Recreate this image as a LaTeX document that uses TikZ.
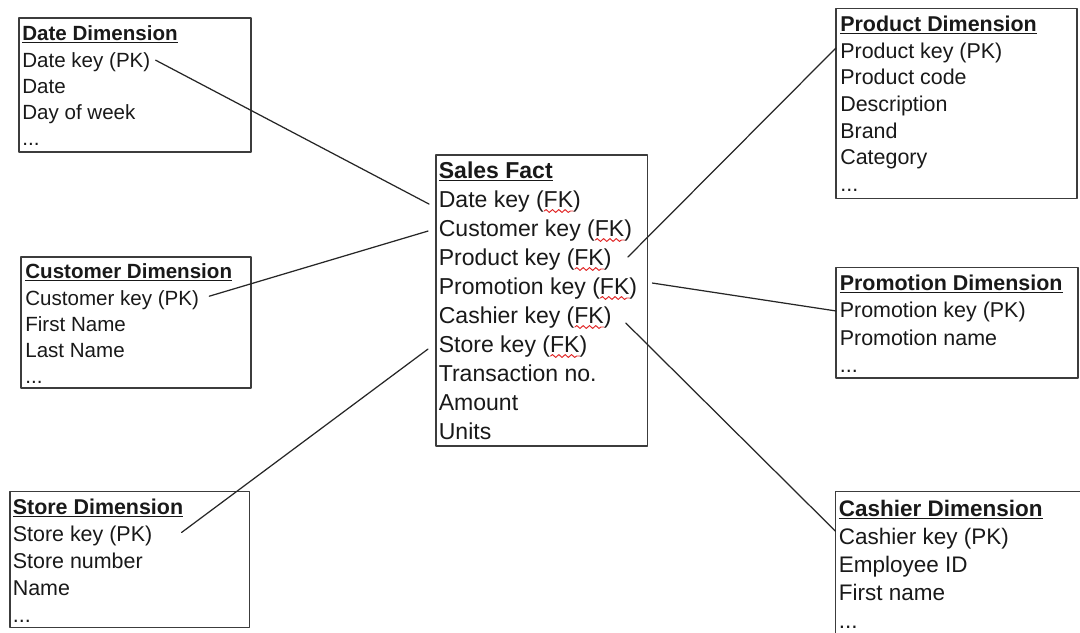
\documentclass[tikz,border=0pt]{standalone}
\usepackage{fontspec}
\setmainfont{Liberation Sans}
\usepackage{xcolor}
\usepackage{tikz}
\usetikzlibrary{positioning}
\usetikzlibrary{fit}
\usetikzlibrary{decorations.pathmorphing}

\newcommand{\boxfont}[1]{\fontsize{#1}{#1}\selectfont}
\newcommand{\tblhead}[1]{\underline{\textbf{#1}}}

\begin{document}
\begin{tikzpicture}[x=0.02cm, y=-0.02cm, line cap=round, line join=round]

			% Colors
			\definecolor{spellred}{RGB}{225,40,40}
			\definecolor{frameG}{RGB}{60,60,60}
			\definecolor{inkA}{RGB}{25,25,25}

			\tikzset{
				tbl/.style={draw=frameG, line width=0.8pt, inner sep=0pt},
				attr/.style={anchor=base west, inner sep=0pt, text=inkA},
				smallrow/.style={attr, font=\boxfont{11.7}},
				midrow/.style={attr, font=\boxfont{12.2}},
				bigrow/.style={attr, font=\boxfont{12.8}},
				factrow/.style={attr, font=\boxfont{13.1}},
				link/.style={draw=black!85, line width=0.7pt},
				spell/.style={draw=spellred, line width=0.55pt, decorate,
					decoration={snake, segment length=3.6pt, amplitude=0.8pt}},
			}

			\useasboundingbox (0,0) rectangle (1080,633);
			\fill[white] (0,0) rectangle (1080,633);
			\clip (0,0) rectangle (1080,633);

			% --- Frames
			\node[tbl, fit={(19,18) (251,152)}] (date) {};
			\node[tbl, fit={(21,257) (251,388)}] (cust) {};
			\node[tbl, fit={(10,491.5) (249.5,627.5)}] (store) {};
			\node[tbl, fit={(436,155) (647.5,446)}] (sales) {};
			\node[tbl, fit={(836,8.5) (1077,198.5)}] (prod) {};
			\node[tbl, fit={(836,267.5) (1078,378)}] (promo) {};
			\node[tbl, fit={(835.5,491.5) (1100,660)}] (cash) {};

			% --- Left: date dimension
			\node[smallrow] (dateHd) at (22,40) {\tblhead{Date Dimension}};
			\node[smallrow] (dateKey) at (22,67) {Date key (PK)};
			\node[smallrow] (dateDate) at (22,93) {Date};
			\node[smallrow] (dateDay) at (22,119) {Day of week};
			\node[smallrow] (dateMore) at (22,145) {...};

			% --- Left: customer dimension
			\node[smallrow] (custHd) at (25,278) {\tblhead{Customer Dimension}};
			\node[smallrow] (custKey) at (25,305) {Customer key (PK)};
			\node[smallrow] (custFirst) at (25,331) {First Name};
			\node[smallrow] (custLast) at (25,357) {Last Name};
			\node[smallrow] (custMore) at (25,383) {...};

			% --- Left: store dimension
			\node[midrow] (storeHd) at (12.5,514) {\tblhead{Store Dimension}};
			\node[midrow] (storeKey) at (12.5,541) {Store key (PK)};
			\node[midrow] (storeNum) at (12.5,568) {Store number};
			\node[midrow] (storeName) at (12.5,595) {Name};
			\node[midrow] (storeMore) at (12.5,622) {...};

			% --- Middle: fact table
			\node[factrow] (sfHd) at (438.5,178) {\tblhead{Sales Fact}};
			\node[factrow] (sfDate) at (438.5,207) {Date key (FK)};
			\node[factrow] (sfCust) at (438.5,236) {Customer key (FK)};
			\node[factrow] (sfProd) at (438.5,265) {Product key (FK)};
			\node[factrow] (sfPromo) at (438.5,294) {Promotion key (FK)};
			\node[factrow] (sfCash) at (438.5,323) {Cashier key (FK)};
			\node[factrow] (sfStore) at (438.5,352) {Store key (FK)};
			\node[factrow] (sfTrans) at (438.5,381) {Transaction no.};
			\node[factrow] (sfAmount) at (438.5,410) {Amount};
			\node[factrow] (sfUnits) at (438.5,439) {Units};

			% spell-check marks under FK
			\draw[spell] ([shift={(-37,4)}]sfDate.base east) -- ([shift={(-8,4)}]sfDate.base east);
			\draw[spell] ([shift={(-37,4)}]sfCust.base east) -- ([shift={(-8,4)}]sfCust.base east);
			\draw[spell] ([shift={(-37,4)}]sfProd.base east) -- ([shift={(-8,4)}]sfProd.base east);
			\draw[spell] ([shift={(-37,4)}]sfPromo.base east) -- ([shift={(-8,4)}]sfPromo.base east);
			\draw[spell] ([shift={(-37,4)}]sfCash.base east) -- ([shift={(-8,4)}]sfCash.base east);
			\draw[spell] ([shift={(-37,4)}]sfStore.base east) -- ([shift={(-8,4)}]sfStore.base east);

			% --- Right: product dimension
			\node[midrow] (prodHd) at (840,31) {\tblhead{Product Dimension}};
			\node[midrow] (prodKey) at (840,58) {Product key (PK)};
			\node[midrow] (prodCode) at (840,84.5) {Product code};
			\node[midrow] (prodDesc) at (840,111) {Description};
			\node[midrow] (prodBrand) at (840,138) {Brand};
			\node[midrow] (prodCat) at (840,164.5) {Category};
			\node[midrow] (prodMore) at (840,191) {...};

			% --- Right: promotion dimension
			\node[midrow] (promoHd) at (839.5,290) {\tblhead{Promotion Dimension}};
			\node[midrow] (promoKey) at (839.5,317.5) {Promotion key (PK)};
			\node[midrow] (promoName) at (839.5,345) {Promotion name};
			\node[midrow] (promoMore) at (839.5,372) {...};

			% --- Right: cashier dimension
			\node[bigrow] (cashHd) at (838.5,516) {\tblhead{Cashier Dimension}};
			\node[bigrow] (cashKey) at (838.5,544) {Cashier key (PK)};
			\node[bigrow] (cashEmp) at (838.5,572) {Employee ID};
			\node[bigrow] (cashFirst) at (838.5,600) {First name};
			\node[bigrow] (cashMore) at (838.5,628) {...};

			% --- Key links
			\draw[link] ([shift={(5,-1.5)}]dateKey.east) -- ([shift={(-9.5,3)}]sfDate.west);
			\draw[link] ([shift={(10,-3.5)}]custKey.east) -- ([shift={(-10.5,1)}]sfCust.west);
			\draw[link] ([shift={(29,-3)}]storeKey.east) -- ([shift={(-10.5,3)}]sfStore.west);
			\draw[link] ([shift={(16,-2)}]sfProd.east) -- ([shift={(-4,-4.5)}]prodKey.west);
			\draw[link] ([shift={(15,-5)}]sfPromo.east) -- ([shift={(-3.5,-1)}]promoKey.west);
			\draw[link] ([shift={(14,6)}]sfCash.east) -- ([shift={(-3,-7)}]cashKey.west);

\end{tikzpicture}
\end{document}
